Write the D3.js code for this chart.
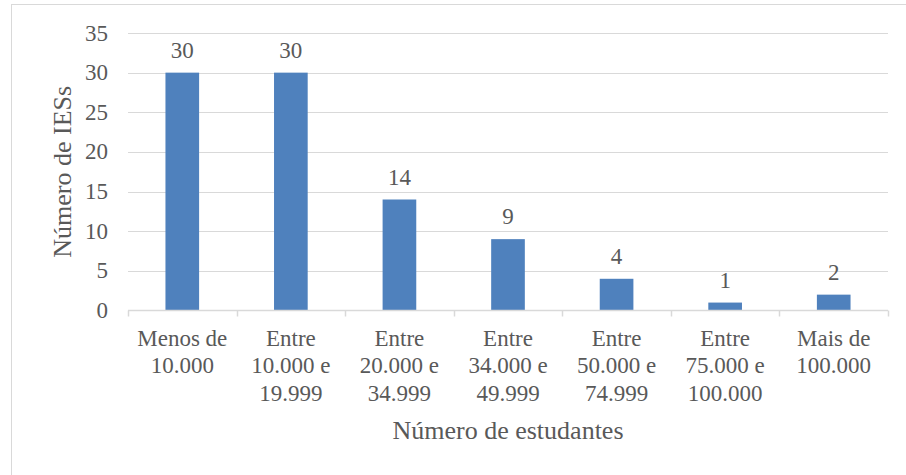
<!DOCTYPE html>
<html>
<head>
<meta charset="utf-8">
<script src="https://cdn.jsdelivr.net/npm/d3@7"></script>
</head>
<body style="margin:0">
<svg id="chart" width="906" height="475"></svg>
<script>
// Faixas de número de estudantes (rótulos em várias linhas)
const categories = [
  ["Menos de", "10.000"],
  ["Entre", "10.000 e", "19.999"],
  ["Entre", "20.000 e", "34.999"],
  ["Entre", "34.000 e", "49.999"],
  ["Entre", "50.000 e", "74.999"],
  ["Entre", "75.000 e", "100.000"],
  ["Mais de", "100.000"]
];
const values = [30, 30, 14, 9, 4, 1, 2];
const yTicks = [0, 5, 10, 15, 20, 25, 30, 35];
const yTitle = "Número de IESs";
const xTitle = "Número de estudantes";

const textColor = "#595959";
const fontName = "Liberation Serif";

const svg = d3.select("#chart");
const plotLeft = 128, plotRight = 888, plotTop = 33, plotBottom = 310.5;

// Moldura do gráfico
svg.append("rect")
  .attr("x", 11.5).attr("y", 4.5)
  .attr("width", 906).attr("height", 480)
  .attr("fill", "none").attr("stroke", "#d9d9d9").attr("stroke-width", 1);

const x = d3.scaleBand()
  .domain(d3.range(categories.length))
  .range([plotLeft, plotRight])
  .paddingInner(0.69).paddingOuter(0.345);

const xOuter = d3.scaleBand()
  .domain(d3.range(categories.length))
  .range([plotLeft, plotRight]);

const y = d3.scaleLinear().domain([0, 35]).range([plotBottom, plotTop]);

// Linhas de grade horizontais
svg.append("g")
  .selectAll("line")
  .data(yTicks.filter(t => t > 0))
  .join("line")
  .attr("x1", plotLeft).attr("x2", plotRight)
  .attr("y1", d => Math.round(y(d)) + 0.5).attr("y2", d => Math.round(y(d)) + 0.5)
  .attr("stroke", "#d9d9d9").attr("stroke-width", 1);

// Rótulos do eixo Y
svg.append("g")
  .selectAll("text")
  .data(yTicks)
  .join("text")
  .attr("x", 108).attr("y", d => y(d) + 7.5)
  .attr("text-anchor", "end")
  .attr("font-size", 23)
  .style("font-family", () => `"${fontName}", monospace`)
  .attr("fill", textColor)
  .text(d => d);

// Barras
svg.append("g")
  .selectAll("rect")
  .data(values)
  .join("rect")
  .attr("x", (d, i) => x(i))
  .attr("width", x.bandwidth())
  .attr("y", d => y(d))
  .attr("height", d => y(0) - y(d))
  .attr("fill", "#4f81bd");

// Rótulos de valor
svg.append("g")
  .selectAll("text")
  .data(values)
  .join("text")
  .attr("x", (d, i) => x(i) + x.bandwidth() / 2)
  .attr("y", d => y(d) - 15)
  .attr("text-anchor", "middle")
  .attr("font-size", 23)
  .style("font-family", () => `"${fontName}", monospace`)
  .attr("fill", textColor)
  .text(d => d);

// Eixo X com marcas entre categorias
const axis = svg.append("g");
axis.append("line")
  .attr("x1", plotLeft).attr("x2", plotRight)
  .attr("y1", plotBottom).attr("y2", plotBottom)
  .attr("stroke", "#d9d9d9").attr("stroke-width", 1.5);
axis.selectAll("line.tick")
  .data(d3.range(categories.length + 1))
  .join("line")
  .attr("class", "tick")
  .attr("x1", i => Math.round(plotLeft + i * xOuter.step()) + 0.5)
  .attr("x2", i => Math.round(plotLeft + i * xOuter.step()) + 0.5)
  .attr("y1", plotBottom).attr("y2", plotBottom + 6)
  .attr("stroke", "#d9d9d9").attr("stroke-width", 1.5);

// Rótulos das categorias: uma linha de texto por linha do rótulo
const catLines = categories.flatMap((lines, i) => lines.map((l, j) => ({ i, j, l })));
svg.append("g")
  .selectAll("text")
  .data(catLines)
  .join("text")
  .attr("x", d => xOuter(d.i) + xOuter.bandwidth() / 2)
  .attr("y", d => 346 + d.j * 27.3)
  .attr("text-anchor", "middle")
  .attr("font-size", 23)
  .style("font-family", () => `"${fontName}", monospace`)
  .attr("fill", textColor)
  .text(d => d.l);

// Títulos dos eixos
svg.append("text")
  .attr("x", 508).attr("y", 439)
  .attr("text-anchor", "middle")
  .attr("font-size", 26)
  .style("font-family", () => `"${fontName}", monospace`)
  .attr("fill", textColor)
  .text(xTitle);

svg.append("text")
  .attr("transform", `translate(71, ${(plotTop + plotBottom) / 2}) rotate(-90)`)
  .attr("text-anchor", "middle")
  .attr("font-size", 26)
  .style("font-family", () => `"${fontName}", monospace`)
  .attr("fill", textColor)
  .text(yTitle);
</script>
</body>
</html>
